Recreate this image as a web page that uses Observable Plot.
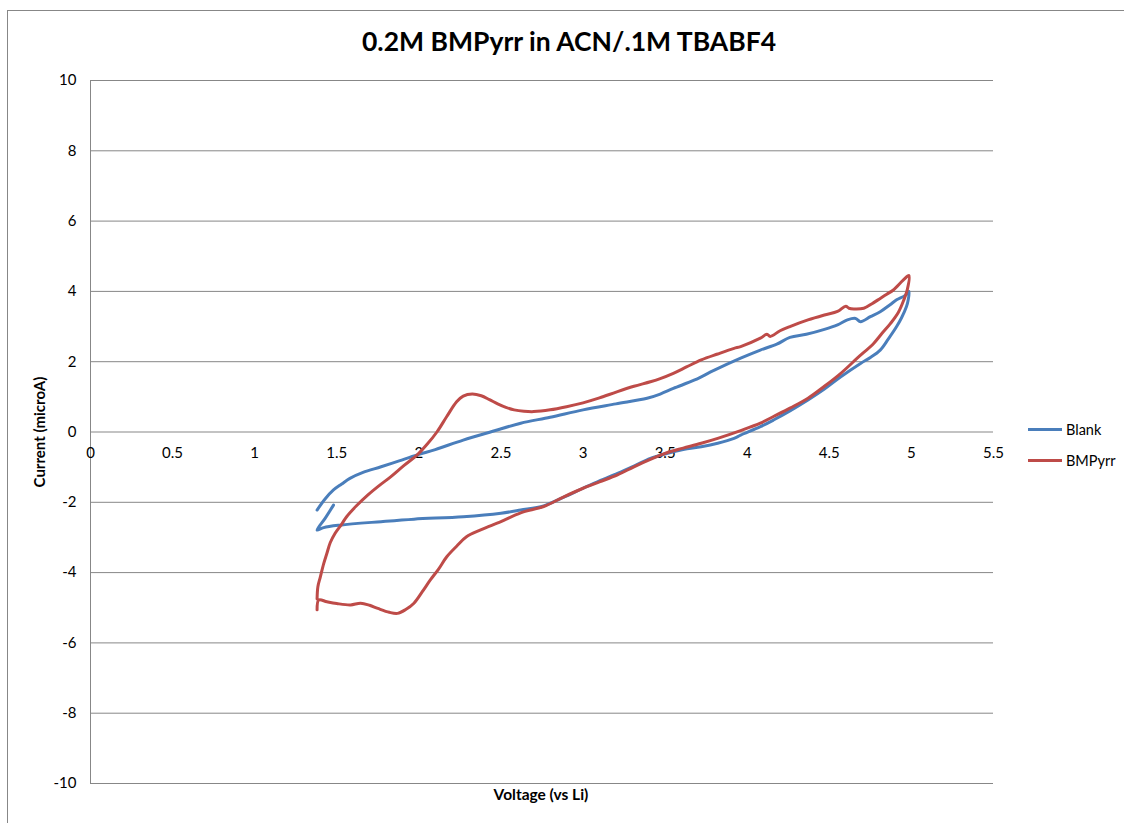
<!DOCTYPE html>
<html>
<head>
<meta charset="utf-8">
<script src="https://cdn.jsdelivr.net/npm/d3@7"></script>
<script src="https://cdn.jsdelivr.net/npm/@observablehq/plot@0.6"></script>
<style>
  html, body { margin: 0; padding: 0; background: #fff; overflow: hidden; }
  #page { position: relative; width: 1124px; height: 823px; font-family: Lato, "Open Sans", sans-serif; color: #000; }
  #frame { position: absolute; left: 7px; top: 10px; width: 1140px; height: 840px; border: 1px solid #878787; }
  #chart { position: absolute; left: 0; top: 0; }
  .title { position: absolute; left: 0; width: 1138px; top: 28px; text-align: center; font-weight: 700; font-size: 26.5px; line-height: 26.5px; }
  .xlabel { position: absolute; left: 341px; width: 400px; top: 787px; text-align: center; font-weight: 700; font-size: 15.5px; line-height: 15.5px; }
  .ylabel { position: absolute; left: 39px; top: 432px; transform: translate(-50%, -50%) rotate(-90deg); white-space: nowrap; font-weight: 700; font-size: 15px; line-height: 15px; }
  .legend { position: absolute; left: 1028px; font-size: 14.5px; line-height: 15px; display: flex; align-items: center; }
  .legend .sw { width: 34px; height: 3px; margin-right: 4px; }
</style>
</head>
<body>
<div id="page">
  <div id="frame"></div>
  <div id="chart"></div>
  <div class="title">0.2M BMPyrr in ACN/.1M TBABF4</div>
  <div class="ylabel">Current (microA)</div>
  <div class="xlabel">Voltage (vs Li)</div>
  <div class="legend" style="top:422px"><div class="sw" style="background:#4a7ebb"></div>Blank</div>
  <div class="legend" style="top:453px"><div class="sw" style="background:#be4b48"></div>BMPyrr</div>
</div>
<script>
// Axis ticks
const xTicks = [0, 0.5, 1, 1.5, 2, 2.5, 3, 3.5, 4, 4.5, 5, 5.5];
const yTicks = [-10, -8, -6, -4, -2, 0, 2, 4, 6, 8, 10];

// Blank electrolyte: forward sweep, reverse sweep, closing step
const blankV = [1.38, 1.43, 1.48, 1.53, 1.58, 1.66, 1.77, 1.88, 1.99, 2.10, 2.27, 2.45, 2.62, 2.80, 3.00, 3.20, 3.39, 3.47, 3.55, 3.68, 3.80, 3.96, 4.08, 4.18, 4.26, 4.36, 4.47, 4.55, 4.61, 4.66, 4.69, 4.75, 4.81, 4.87, 4.91, 4.96, 4.985,
  4.98, 4.97, 4.94, 4.91, 4.86, 4.81, 4.75, 4.69, 4.57, 4.47, 4.37, 4.26, 4.16, 4.08, 3.96, 3.92, 3.82, 3.72, 3.61, 3.51, 3.41, 3.31, 3.21, 3.10, 3.00, 2.88, 2.76, 2.62, 2.50, 2.27, 1.97, 1.77, 1.52, 1.42, 1.38, 1.43, 1.48];
const blankI = [-2.22, -1.90, -1.65, -1.48, -1.32, -1.15, -0.99, -0.82, -0.65, -0.50, -0.23, 0.02, 0.25, 0.42, 0.63, 0.80, 0.96, 1.08, 1.24, 1.48, 1.76, 2.10, 2.33, 2.50, 2.69, 2.78, 2.92, 3.05, 3.19, 3.23, 3.14, 3.28, 3.42, 3.62, 3.76, 3.88, 4.00,
  3.75, 3.57, 3.25, 3.00, 2.65, 2.33, 2.12, 1.95, 1.57, 1.22, 0.91, 0.60, 0.34, 0.15, -0.09, -0.18, -0.32, -0.42, -0.50, -0.61, -0.75, -0.97, -1.18, -1.39, -1.60, -1.86, -2.10, -2.22, -2.31, -2.41, -2.48, -2.55, -2.65, -2.72, -2.79, -2.45, -2.08];

// 0.2M BMPyrr: forward sweep with oxidation peak, reverse sweep with reduction peak
const bmpV = [1.38, 1.385, 1.40, 1.42, 1.44, 1.46, 1.49, 1.53, 1.56, 1.62, 1.69, 1.76, 1.83, 1.91, 1.99, 2.05, 2.11, 2.17, 2.23, 2.27, 2.325, 2.38, 2.43, 2.48, 2.53, 2.58, 2.64, 2.70, 2.80, 2.90, 3.00, 3.10, 3.21, 3.31, 3.41, 3.47, 3.55, 3.63, 3.72, 3.82, 3.92, 3.96, 4.08, 4.12, 4.14, 4.20, 4.26, 4.37, 4.47, 4.55, 4.60, 4.62, 4.65, 4.71, 4.76, 4.81, 4.85, 4.89, 4.95, 4.985,
  4.975, 4.954, 4.92, 4.873, 4.82, 4.77, 4.67, 4.57, 4.47, 4.37, 4.26, 4.16, 4.08, 3.96, 3.82, 3.72, 3.61, 3.51, 3.41, 3.31, 3.21, 3.10, 3.00, 2.88, 2.76, 2.62, 2.50, 2.38, 2.29, 2.23, 2.17, 2.12, 2.07, 2.02, 1.97, 1.92, 1.87, 1.82, 1.75, 1.70, 1.645, 1.584, 1.50, 1.44, 1.39, 1.38];
const bmpI = [-4.75, -4.40, -4.12, -3.75, -3.45, -3.15, -2.88, -2.62, -2.41, -2.10, -1.79, -1.52, -1.27, -0.95, -0.65, -0.35, 0.00, 0.44, 0.86, 1.02, 1.08, 1.03, 0.92, 0.80, 0.70, 0.63, 0.59, 0.58, 0.63, 0.72, 0.83, 0.97, 1.15, 1.30, 1.43, 1.52, 1.67, 1.85, 2.05, 2.22, 2.38, 2.43, 2.67, 2.78, 2.72, 2.88, 3.00, 3.19, 3.33, 3.43, 3.58, 3.52, 3.50, 3.52, 3.65, 3.80, 3.92, 4.04, 4.32, 4.45,
  4.05, 3.76, 3.40, 3.09, 2.80, 2.52, 2.10, 1.67, 1.30, 0.96, 0.68, 0.44, 0.25, 0.04, -0.18, -0.32, -0.46, -0.59, -0.78, -0.99, -1.22, -1.42, -1.60, -1.85, -2.12, -2.30, -2.55, -2.78, -2.98, -3.25, -3.55, -3.90, -4.21, -4.55, -4.87, -5.05, -5.16, -5.13, -5.02, -4.93, -4.87, -4.92, -4.88, -4.83, -4.78, -5.06];

const blank = blankV.map((v, i) => ({v, i: blankI[i]}));
const bmp = bmpV.map((v, i) => ({v, i: bmpI[i]}));

const grid = "#878787";

const chart = Plot.plot({
  width: 1124,
  height: 823,
  marginLeft: 90,
  marginRight: 131,
  marginTop: 80,
  marginBottom: 40,
  style: {fontFamily: "Lato, 'Open Sans', sans-serif", fontSize: "15px", background: "transparent", color: "#000"},
  x: {domain: [0, 5.5], axis: null},
  y: {domain: [-10, 10]},
  marks: [
    Plot.ruleY(yTicks, {stroke: grid, strokeWidth: 1}),
    Plot.ruleX([0], {stroke: grid, strokeWidth: 1}),
    Plot.axisY({ticks: yTicks, tickSize: 0, tickPadding: 14, tickFormat: d => String(d), label: null, fontSize: 15}),
    Plot.text(xTicks, {x: d => d, y: 0, dy: 21, text: d => String(d), fontSize: 15, fill: "#000"}),
    Plot.line(blank, {x: "v", y: "i", stroke: "#4a7ebb", strokeWidth: 3, curve: "catmull-rom", strokeLinejoin: "round", strokeLinecap: "round"}),
    Plot.line(bmp, {x: "v", y: "i", stroke: "#be4b48", strokeWidth: 3, curve: "catmull-rom", strokeLinejoin: "round", strokeLinecap: "round"})
  ]
});
document.getElementById("chart").appendChild(chart);
</script>
</body>
</html>
